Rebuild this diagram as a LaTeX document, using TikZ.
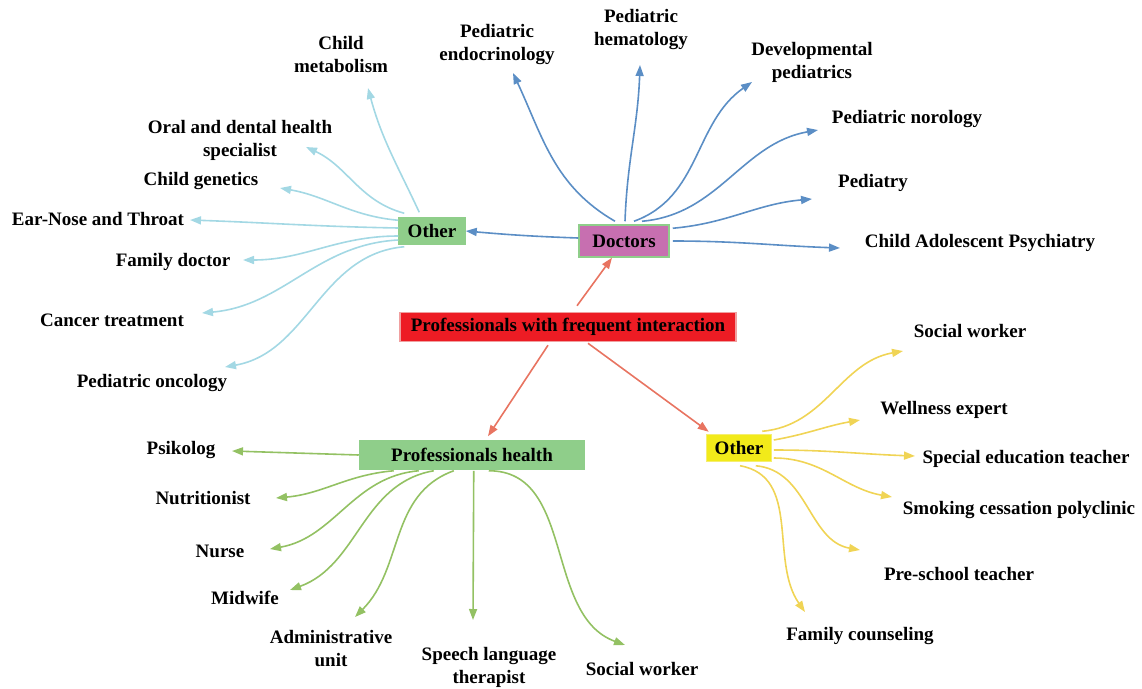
\documentclass[tikz,border=0pt]{standalone}
\usepackage{fontspec}
\setmainfont{Liberation Serif}
\usetikzlibrary{arrows.meta}
\definecolor{cred}{HTML}{ED1C24}
\definecolor{credline}{HTML}{F0A0A0}
\definecolor{cmag}{HTML}{C76FB0}
\definecolor{cgreen}{HTML}{8FCE8A}
\definecolor{cyel}{HTML}{F2EA1A}
\definecolor{cyelline}{HTML}{F5EE70}
\definecolor{ared}{HTML}{E87461}
\definecolor{ablue}{HTML}{5B8EC5}
\definecolor{alight}{HTML}{A3D8E4}
\definecolor{agreen}{HTML}{93C163}
\definecolor{ayel}{HTML}{F0D455}
\begin{document}
\begin{tikzpicture}[x=1pt,y=-1pt,
  font=\fontsize{19}{23}\selectfont\bfseries,
  lbl/.style={inner sep=0pt, align=center},
  hub/.style={draw, line width=1.5pt, inner sep=0pt},
  arr/.style={line width=1.6pt, -{Triangle[length=11pt,width=8pt]}},
  redarr/.style={arr, ared},
  bluearr/.style={arr, ablue},
  lightarr/.style={arr, alight},
  greenarr/.style={arr, agreen},
  yelarr/.style={arr, ayel}]
\useasboundingbox (0,0) rectangle (1142,688);

% hubs
\node[hub, fill=cred, draw=credline, minimum width=336pt, minimum height=29pt] (c) at (568,327) {Professionals with frequent interaction};
\node[hub, fill=cmag, draw=cgreen, minimum width=90pt, minimum height=32pt] (d) at (624,241) {Doctors};
\node[hub, fill=cgreen, draw=cgreen, minimum width=66pt, minimum height=27pt] (o1) at (432,231) {Other};
\node[hub, fill=cgreen, draw=cgreen, minimum width=225pt, minimum height=28pt] (p) at (472,455) {Professionals health};
\node[hub, fill=cyel, draw=cyelline, minimum width=65pt, minimum height=27pt] (r) at (739,448) {Other};

% labels
\node[lbl] (lmet) at (341,54) {Child\\metabolism};
\node[lbl] (lora) at (240,140) {Oral and dental health\\specialist};
\node[lbl] (lgen) at (201,181) {Child genetics};
\node[lbl] (lent) at (98,219) {Ear-Nose and Throat};
\node[lbl] (lfam) at (173,262) {Family doctor};
\node[lbl] (lcan) at (112,320) {Cancer treatment};
\node[lbl] (lonc) at (152,383) {Pediatric oncology};

\node[lbl] (lendo) at (497,45) {Pediatric\\endocrinology};
\node[lbl] (lhem) at (641,30) {Pediatric\\hematology};
\node[lbl] (ldev) at (812,62) {Developmental\\pediatrics};
\node[lbl] (lnor) at (907,119) {Pediatric norology};
\node[lbl] (lped) at (873,183) {Pediatry};
\node[lbl] (lpsy) at (980,243) {Child Adolescent Psychiatry};

\node[lbl] (lsw) at (970,331) {Social worker};
\node[lbl] (lwel) at (944,410) {Wellness expert};
\node[lbl] (lsed) at (1026,459) {Special education teacher};
\node[lbl] (lsmo) at (1019,510) {Smoking cessation polyclinic};
\node[lbl] (lpre) at (959,574) {Pre-school teacher};
\node[lbl] (lfc) at (860,636) {Family counseling};

\node[lbl] (lpsi) at (181,450) {Psikolog};
\node[lbl] (lnut) at (203,498) {Nutritionist};
\node[lbl] (lnur) at (220,551) {Nurse};
\node[lbl] (lmid) at (245,598) {Midwife};
\node[lbl] (ladm) at (331,649) {Administrative\\unit};
\node[lbl] (lspe) at (489,667) {Speech language\\therapist};
\node[lbl] (lsw2) at (642,669) {Social worker};

% arrow tips
\coordinate (tmet) at (368,88);
\coordinate (tora) at (306,147);
\coordinate (tgen) at (280,188);
\coordinate (tent) at (190,220);
\coordinate (tfam) at (243,260);
\coordinate (tcan) at (202,313);
\coordinate (tonc) at (225,367);
\coordinate (tendo) at (513,73);
\coordinate (them) at (640,65);
\coordinate (tdev) at (752,82);
\coordinate (tnor) at (818,130);
\coordinate (tped) at (812,199);
\coordinate (tpsy) at (840,248);
\coordinate (tsw) at (903,351);
\coordinate (twel) at (860,420);
\coordinate (tsed) at (915,456);
\coordinate (tsmo) at (892,497);
\coordinate (tpre) at (860,550);
\coordinate (tfc) at (805,612);
\coordinate (tpsi) at (232,451);
\coordinate (tnut) at (276,498);
\coordinate (tnur) at (270,549);
\coordinate (tmid) at (290,590);
\coordinate (tadm) at (355,617);
\coordinate (tspe) at (473,620);
\coordinate (tsw2) at (625,645);

% red
\draw[redarr] ([xshift=9pt,yshift=6pt]c.north) -- ([xshift=-12pt]d.south);
\draw[redarr] ([xshift=-20pt,yshift=-3pt]c.south) -- ([xshift=16pt,yshift=4pt]p.north);
\draw[redarr] ([xshift=20pt,yshift=-1pt]c.south) -- ([xshift=3pt,yshift=2pt]r.north west);

% doctors (blue)
\draw[bluearr] ([yshift=3pt]d.west) to[out=178,in=-5] (o1.east);
\draw[bluearr] ([xshift=-9pt,yshift=3pt]d.north) to[out=150,in=-65] (tendo);
\draw[bluearr] ([xshift=1pt,yshift=3pt]d.north) to[out=88,in=-92] (them);
\draw[bluearr] ([xshift=10pt,yshift=3pt]d.north) to[out=20,in=-145] (tdev);
\draw[bluearr] ([xshift=18pt,yshift=3pt]d.north) to[out=5,in=-170] (tnor);
\draw[bluearr] ([xshift=3pt,yshift=-4pt]d.north east) to[out=5,in=-175] (tped);
\draw[bluearr] ([xshift=3pt]d.east) to[out=0,in=178] (tpsy);

% other left (light blue)
\draw[lightarr] ([xshift=21pt,yshift=4.5pt]o1.north west) to[out=115,in=-75] (tmet);
\draw[lightarr] ([xshift=6pt,yshift=3.5pt]o1.north west) to[out=165,in=-25] (tora);
\draw[lightarr] ([yshift=-3.5pt]o1.north west) to[out=175,in=-10] (tgen);
\draw[lightarr] ([yshift=3pt]o1.west) to[out=179,in=-2] (tent);
\draw[lightarr] ([yshift=-5pt]o1.west) to[out=180,in=0] (tfam);
\draw[lightarr] ([yshift=-9pt]o1.west) to[out=183,in=5] (tcan);
\draw[lightarr] ([xshift=6pt,yshift=-1.5pt]o1.south west) to[out=185,in=10] (tonc);

% professionals health (green)
\draw[greenarr] (p.west) -- (tpsi);
\draw[greenarr] ([xshift=35pt,yshift=-1pt]p.south west) to[out=185,in=5] (tnut);
\draw[greenarr] ([xshift=60pt,yshift=-1pt]p.south west) to[out=185,in=10] (tnur);
\draw[greenarr] ([xshift=75pt,yshift=-1pt]p.south west) to[out=190,in=20] (tmid);
\draw[greenarr] ([xshift=95pt,yshift=-1pt]p.south west) to[out=200,in=45] (tadm);
\draw[greenarr] ([xshift=115pt,yshift=-1pt]p.south west) -- (tspe);
\draw[greenarr] ([xshift=130pt,yshift=-1pt]p.south west) to[out=0,in=160] (tsw2);

% other right (yellow)
\draw[yelarr] ([xshift=-10pt,yshift=2.5pt]r.north east) to[out=5,in=-170] (tsw);
\draw[yelarr] ([xshift=1.5pt,yshift=8pt]r.east) to[out=10,in=-170] (twel);
\draw[yelarr] ([xshift=1.5pt,yshift=-2pt]r.east) to[out=0,in=178] (tsed);
\draw[yelarr] ([xshift=1.5pt,yshift=-10pt]r.east) to[out=0,in=170] (tsmo);
\draw[yelarr] ([xshift=-16.5pt,yshift=-3.5pt]r.south east) to[out=-5,in=170] (tpre);
\draw[yelarr] ([xshift=1pt,yshift=-3.5pt]r.south) to[out=-10,in=125] (tfc);
\end{tikzpicture}
\end{document}
